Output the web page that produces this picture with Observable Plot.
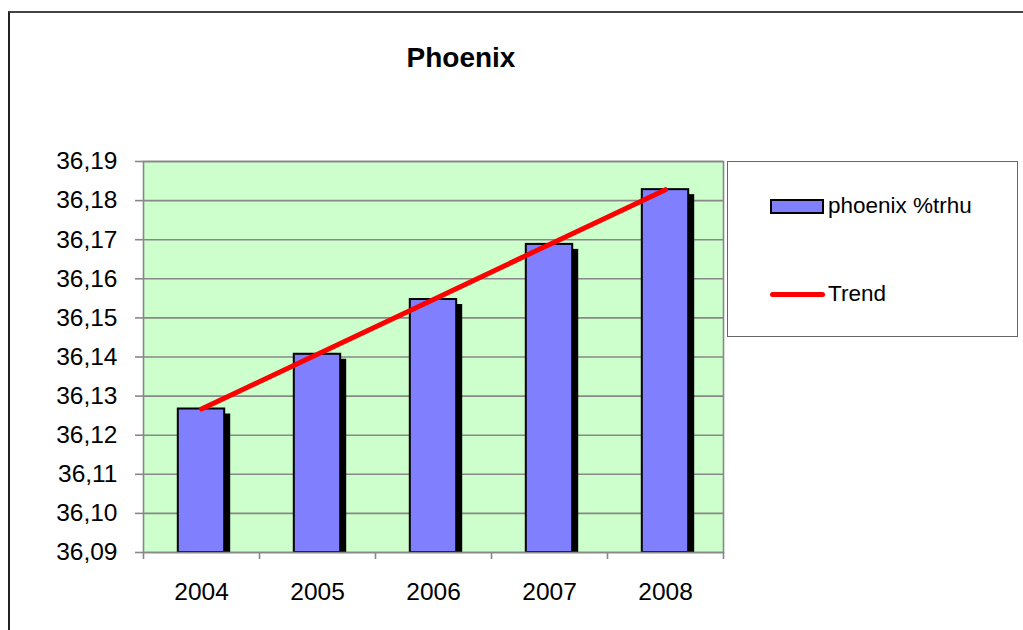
<!DOCTYPE html>
<html>
<head>
<meta charset="utf-8">
<script src="https://cdn.jsdelivr.net/npm/d3@7"></script>
<script src="https://cdn.jsdelivr.net/npm/@observablehq/plot@0.6"></script>
<style>
  html, body { margin: 0; padding: 0; background: #fff; }
  #wrap { position: relative; width: 1023px; height: 630px; overflow: hidden; font-family: "Liberation Sans", Arial, sans-serif; }
  #outer { position: absolute; left: 8px; top: 11px; width: 1100px; height: 700px; border-left: 2.5px solid #222; border-top: 2px solid #444; }
  #title { position: absolute; left: 361px; top: 44px; width: 200px; text-align: center; font-weight: bold; font-size: 28px; line-height: 28px; color: #000; }
  #chart { position: absolute; left: 0; top: 0; }
  #legend { position: absolute; left: 727px; top: 161px; width: 289px; height: 174px; border: 1.5px solid #666; background: #fff; }
  .lg-text { position: absolute; font-size: 22.5px; line-height: 22.5px; color: #000; white-space: nowrap; }
  .sw-bar { position: absolute; box-sizing: border-box; border: 2px solid #000; background: #8080FF; }
  .sw-line { position: absolute; background: #FF0000; border-radius: 3px; }
</style>
</head>
<body>
<div id="wrap">
  <div id="outer"></div>
  <div id="title"></div>
  <div id="chart"></div>
  <div id="legend"></div>
</div>
<script>
// ---- data ----
const title = "Phoenix";
const years = [2004, 2005, 2006, 2007, 2008];
const values = [36.1267, 36.1407, 36.1547, 36.1688, 36.1828];
const trend = [36.1267, 36.1407, 36.1547, 36.1688, 36.1828];
const yTicks = [36.09, 36.10, 36.11, 36.12, 36.13, 36.14, 36.15, 36.16, 36.17, 36.18, 36.19];
const seriesLabel = "phoenix %trhu";
const trendLabel = "Trend";

const yMin = 36.09, yMax = 36.19;
const halfBar = 0.2;
const data = years.map((year, i) => ({ year, value: values[i], trend: trend[i] }));
const bounds = [years[0] - 0.5, ...years.map(y => y + 0.5)];
const fmt = d => d3.format(".2f")(d).replace(".", ",");

document.getElementById("title").textContent = title;

const plot = Plot.plot({
  width: 1023,
  height: 630,
  marginLeft: 143,
  marginRight: 300,
  marginTop: 161,
  marginBottom: 78,
  style: { background: "transparent", fontFamily: "'Liberation Sans', Arial, sans-serif", color: "#000" },
  x: { type: "linear", domain: [years[0] - 0.5, years[years.length - 1] + 0.5] },
  y: { domain: [yMin, yMax] },
  marks: [
    Plot.frame({ fill: "#CCFFCC" }),
    Plot.gridY(yTicks, { stroke: "#888", strokeOpacity: 1, strokeWidth: 1.6 }),
    Plot.rectY(data, { x1: d => d.year - halfBar, x2: d => d.year + halfBar, y1: yMin, y2: "value", fill: "#000", dx: 6, dy: 5, clip: "frame" }),
    Plot.rectY(data, { x1: d => d.year - halfBar, x2: d => d.year + halfBar, y1: yMin, y2: "value", fill: "#8080FF", stroke: "#000", strokeWidth: 2 }),
    Plot.line(data, { x: "year", y: "trend", stroke: "#FF0000", strokeWidth: 5, strokeLinecap: "round" }),
    Plot.frame({ stroke: "#888", strokeWidth: 1.6 }),
    Plot.axisY(yTicks, { tickSize: 8, tickPadding: 18, tickFormat: fmt, fontSize: 24.5, stroke: "#888", strokeWidth: 1.6, label: null }),
    Plot.axisX(bounds, { tickSize: 7, tickFormat: () => "", stroke: "#888", strokeWidth: 1.6, label: null }),
    Plot.axisX(years, { tickSize: 0, tickPadding: 30, tickFormat: d => String(d), fontSize: 24.5, label: null })
  ]
});
document.getElementById("chart").appendChild(plot);

// ---- legend (HTML, outside the SVG) ----
const legend = document.getElementById("legend");
const sw1 = document.createElement("div");
sw1.className = "sw-bar";
Object.assign(sw1.style, { left: "42px", top: "37px", width: "54px", height: "15px" });
legend.appendChild(sw1);
const t1 = document.createElement("div");
t1.className = "lg-text";
t1.textContent = seriesLabel;
Object.assign(t1.style, { left: "100px", top: "33px" });
legend.appendChild(t1);
const sw2 = document.createElement("div");
sw2.className = "sw-line";
Object.assign(sw2.style, { left: "42px", top: "129.5px", width: "55px", height: "5px" });
legend.appendChild(sw2);
const t2 = document.createElement("div");
t2.className = "lg-text";
t2.textContent = trendLabel;
Object.assign(t2.style, { left: "100px", top: "121px" });
legend.appendChild(t2);
</script>
</body>
</html>
